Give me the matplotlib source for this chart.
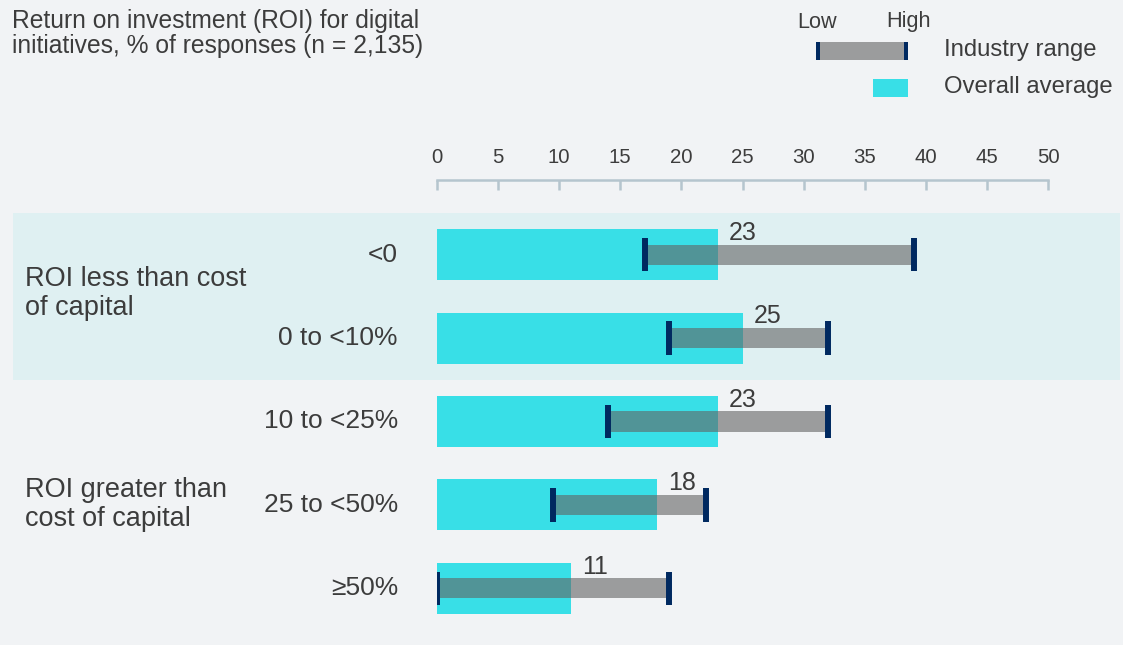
import matplotlib
matplotlib.use("Agg")
import matplotlib.pyplot as plt
import matplotlib.transforms as mtransforms
from matplotlib.patches import Rectangle

plt.rcParams['font.family'] = ['Liberation Sans', 'DejaVu Sans']

# data
categories = ['<0', '0 to <10%', '10 to <25%', '25 to <50%', '≥50%']
overall_avg = [23, 25, 23, 18, 11]
range_low = [17, 19, 14, 9.5, 0]
range_high = [39, 32, 32, 22, 19]
groups = ['ROI less than cost\nof capital', 'ROI greater than\ncost of capital']
group_rows = [0.47, 3.0]
ticks = [0, 5, 10, 15, 20, 25, 30, 35, 40, 45, 50]

BG = '#F1F3F5'
BAND = '#DFF0F2'
CYAN = '#38DFE7'
GREY = '#636363'
NAVY = '#002960'
TXT = '#3C3C3C'
AXC = '#B5C5CE'

W, H = 1123, 645
fig = plt.figure(figsize=(W / 100, H / 100), dpi=100)
fig.patch.set_facecolor(BG)

# main axes: x 0 -> px 437, 50 -> px 1048; rows from px 213 to 630
ax = fig.add_axes([437 / W, (H - 630) / H, 611 / W, 417 / H])
ax.set_xlim(0, 50)
ax.set_ylim(4.5, -0.5)
ax.axis('off')

# shaded band for the first group
trans = mtransforms.blended_transform_factory(fig.transFigure, ax.transData)
band = Rectangle((13 / W, -0.5), (1120 - 13) / W, 2.0, transform=trans,
                 facecolor=BAND, edgecolor='none', zorder=-5)
fig.patches.append(band)

y = list(range(len(categories)))
ax.barh(y, overall_avg, height=0.61, color=CYAN, zorder=2)
ax.barh(y, [h - l for h, l in zip(range_high, range_low)], left=range_low,
        height=0.24, color=GREY, alpha=0.6, zorder=3)
ax.vlines(range_low, [i - 0.2 for i in y], [i + 0.2 for i in y], colors=NAVY, lw=4.3, zorder=4)
ax.vlines(range_high, [i - 0.2 for i in y], [i + 0.2 for i in y], colors=NAVY, lw=4.3, zorder=4)

for i, v in enumerate(overall_avg):
    ax.annotate(str(v), xy=(v, i - 0.26), xytext=(8, 0), textcoords='offset points',
                ha='left', va='center', fontsize=18, color=TXT, zorder=5)

# category labels and group labels
for i, c in enumerate(categories):
    ax.text(398 / W, i, c, transform=trans, ha='right', va='center', fontsize=19, color=TXT)
for g, r in zip(groups, group_rows):
    ax.text(25 / W, r, g, transform=trans, ha='left', va='center', fontsize=19.5,
            color=TXT, linespacing=1.15)

# scale axis on top
ax2 = fig.add_axes([437 / W, (H - 190) / H, 611 / W, 10 / H])
ax2.set_xlim(0, 50)
ax2.set_facecolor('none')
for s in ['left', 'right', 'bottom']:
    ax2.spines[s].set_visible(False)
ax2.spines['top'].set_color(AXC)
ax2.spines['top'].set_linewidth(1.8)
ax2.set_yticks([])
ax2.set_xticks(ticks)
ax2.tick_params(axis='x', top=True, bottom=False, labeltop=True, labelbottom=False,
                direction='in', length=7.5, width=1.8, color=AXC, pad=9,
                labelsize=14.7, labelcolor=TXT)

# title
fig.text(12 / W, 1 - 9 / H, 'Return on investment (ROI) for digital\ninitiatives, % of responses (n = 2,135)',
         ha='left', va='top', fontsize=17.7, color=TXT, linespacing=1.05)

# legend
fig.text(817 / W, 1 - 22 / H, 'Low', ha='center', va='center', fontsize=15.6, color=TXT)
fig.text(908 / W, 1 - 22 / H, 'High', ha='center', va='center', fontsize=15.6, color=TXT)
lg = fig.add_axes([0, 0, 1, 1])
lg.set_xlim(0, W)
lg.set_ylim(H, 0)
lg.axis('off')
lg.add_patch(Rectangle((816, 42), 91, 18, facecolor=GREY, alpha=0.6, edgecolor='none'))
lg.add_patch(Rectangle((816, 42), 4, 18, facecolor=NAVY, edgecolor='none'))
lg.add_patch(Rectangle((904, 42), 4, 18, facecolor=NAVY, edgecolor='none'))
lg.add_patch(Rectangle((873, 79), 35, 18, facecolor=CYAN, edgecolor='none'))
lg.text(944, 50, 'Industry range', ha='left', va='center', fontsize=17.2, color=TXT)
lg.text(944, 87, 'Overall average', ha='left', va='center', fontsize=17.2, color=TXT)

fig.savefig('out.png', dpi=100, facecolor=BG)
